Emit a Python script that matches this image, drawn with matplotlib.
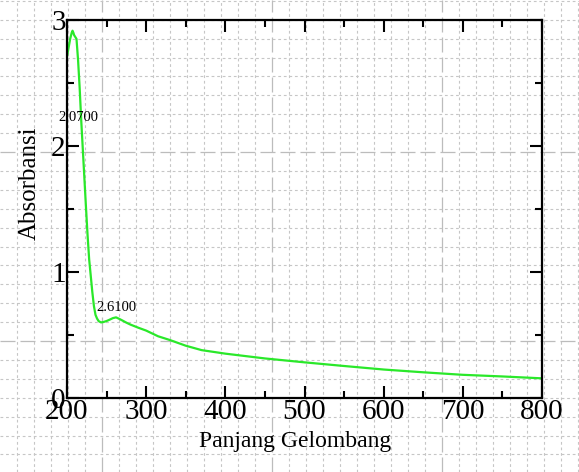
import numpy as np
import matplotlib
matplotlib.use("Agg")
from matplotlib import pyplot as plt
from matplotlib.ticker import MultipleLocator

# spectrum
wavelength = [200, 202, 204, 206, 207, 208, 209, 210, 212, 214, 216, 218, 220,
              222, 224, 226, 228, 230, 232, 234, 236, 238, 240, 243, 246, 250,
              254, 258, 262, 266, 270, 275, 280, 290, 300, 315, 330, 350, 370,
              400, 450, 500, 550, 600, 650, 700, 750, 800]
absorbance = [2.71, 2.78, 2.85, 2.90, 2.915, 2.90, 2.88, 2.87, 2.85, 2.68, 2.46,
              2.20, 1.97, 1.74, 1.51, 1.29, 1.10, 0.97, 0.84, 0.73, 0.66, 0.63,
              0.61, 0.60, 0.603, 0.611, 0.622, 0.634, 0.640, 0.628, 0.615, 0.598,
              0.583, 0.558, 0.535, 0.49, 0.46, 0.415, 0.38, 0.352, 0.314, 0.283,
              0.254, 0.226, 0.204, 0.184, 0.171, 0.156]

peak_labels = ["2.0700", "2.6100"]
peak_pos = [(214, 2.23), (263, 0.72)]

W, H = 579, 472
fig = plt.figure(figsize=(W / 100, H / 100), dpi=100)

# paper-like background grid over the whole figure (pixel coords)
bg = fig.add_axes([0, 0, 1, 1], zorder=0)
bg.set_xlim(0, W)
bg.set_ylim(H, 0)
bg.axis("off")
for k in range(-6, 30):
    x = 101.7 + 17 * k
    if x < 0 or x > W:
        continue
    if k % 10 == 0:
        bg.axvline(x, color="#bcbcbc", lw=0.9, ls=(0, (12, 4)))
    else:
        bg.axvline(x, color="#c6c6c6", lw=0.8, ls=(0, (2.5, 2.5)))
for k in range(-8, 20):
    y = 152 + 18.9 * k
    if y < 0 or y > H:
        continue
    if k % 10 == 0:
        bg.axhline(y, color="#bcbcbc", lw=0.9, ls=(0, (12, 4)))
    else:
        bg.axhline(y, color="#c6c6c6", lw=0.8, ls=(0, (2.5, 2.5)))

ax = fig.add_axes([67 / W, 1 - 398 / H, 475 / W, 378 / H], zorder=1)
ax.patch.set_alpha(0)

ax.plot(wavelength, absorbance, color="#2ae82a", lw=1.6)

for txt, (px, py) in zip(peak_labels, peak_pos):
    ax.text(px, py, txt, fontsize=10.5, family="Liberation Serif",
            ha="center", va="center")

ax.set_xlim(200, 800)
ax.set_ylim(0, 3)
ax.xaxis.set_major_locator(MultipleLocator(100))
ax.xaxis.set_minor_locator(MultipleLocator(50))
ax.yaxis.set_major_locator(MultipleLocator(1))
ax.yaxis.set_minor_locator(MultipleLocator(0.5))

for s in ax.spines.values():
    s.set_linewidth(1.6)

ax.tick_params(which="both", direction="in", top=True, right=True, width=1.5)
ax.tick_params(which="major", length=8.5, labelsize=21, pad=1)
ax.tick_params(which="minor", length=5)
for lab in ax.get_xticklabels() + ax.get_yticklabels():
    lab.set_family("Liberation Serif")

ax.set_xlabel("Panjang Gelombang", fontsize=17, family="Liberation Serif",
              va="center")
ax.xaxis.set_label_coords(0.48, -0.115)
ax.set_ylabel("Absorbansi", fontsize=18, family="Liberation Serif",
              va="center", ha="center")
ax.yaxis.set_label_coords(-0.078, 0.569)

fig.savefig("out.png", dpi=100)
